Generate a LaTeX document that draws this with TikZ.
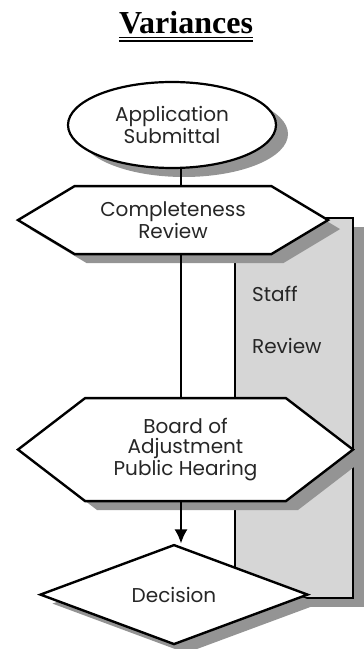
\documentclass[tikz,border=0pt]{standalone}
\usepackage{fontspec}
\setmainfont{Poppins}
\newfontfamily\titlefont{Liberation Serif}
\usetikzlibrary{shadows,arrows.meta,shapes.geometric,shapes.symbols,calc}
\tikzstyle{shade}=[drop shadow={shadow xshift=12pt, shadow yshift=-9pt,
  fill=black!42, opacity=1}]
\tikzstyle{start}=[ellipse, draw, line width=2.2pt, fill=white, inner sep=0pt,
  minimum width=208pt, minimum height=86pt, align=center, font=\fontsize{20}{20}\selectfont,
  text=black!85, shade]
\tikzstyle{review}=[signal, signal to=west and east, draw, line width=2.4pt,
  fill=white, inner sep=0pt, align=center, font=\fontsize{20}{20}\selectfont,
  text=black!85, shade]
\tikzstyle{decision}=[diamond, draw, line width=2.4pt, fill=white, inner sep=0pt,
  minimum width=268pt, minimum height=97pt, font=\fontsize{20}{20}\selectfont,
  text=black!85, shade]
\tikzstyle{staff}=[rectangle, draw, line width=2.2pt, fill=black!16,
  minimum width=118pt, minimum height=380pt, shade]
\tikzstyle{line} = [draw, line width=1.8pt, color=black]
\tikzstyle{arrow} = [line, -{Latex[length=14pt,width=13pt]}]

\begin{document}
\begin{tikzpicture}[x=1pt,y=1pt]
  \useasboundingbox (0,0) rectangle (364,649);

  % Draw diagram elements
  \path (186,615) node (title) [anchor=base, inner sep=0pt]
    {\titlefont\fontsize{32}{36}\selectfont\bfseries Variances};
  \path (172,524) node (app) [start] {Application\\Submittal};
  \path (app.south)+(122,-239) node (sr) [staff] {};
  \path (sr.north west)+(18,-137) node (srl) [anchor=base west, inner sep=0pt,
    align=left, font=\fontsize{20}{20}\selectfont, text=black!85] {Staff\\[32pt]Review};
  \path (app.south)+(1,-51) node (rev) [review, minimum width=310pt,
    minimum height=68pt, signal pointer angle=62] {Completeness\\Review};
  \path (app.south)+(13.5,-280.5) node (boa) [review, minimum width=335pt,
    minimum height=103pt, signal pointer angle=75] {Board of\\Adjustment\\Public Hearing};
  \path (app.south)+(2,-425.5) node (dec) [decision] {Decision};
  \coordinate (spine) at (181,0);
    \draw [line width=1.4pt] ($(title.base west)+(0,-3.5)$) -- ($(title.base east)+(0,-3.5)$);
    \draw [line width=1.4pt] ($(title.base west)+(0,-7)$) -- ($(title.base east)+(0,-7)$);
    \path [line] (app.south -| spine) -- (rev.north -| spine);
    \path [line] (rev.south -| spine) -- (boa.north -| spine);
    \path [arrow] (boa.south -| spine) -- (dec.north -| spine);
\end{tikzpicture}
\end{document}
